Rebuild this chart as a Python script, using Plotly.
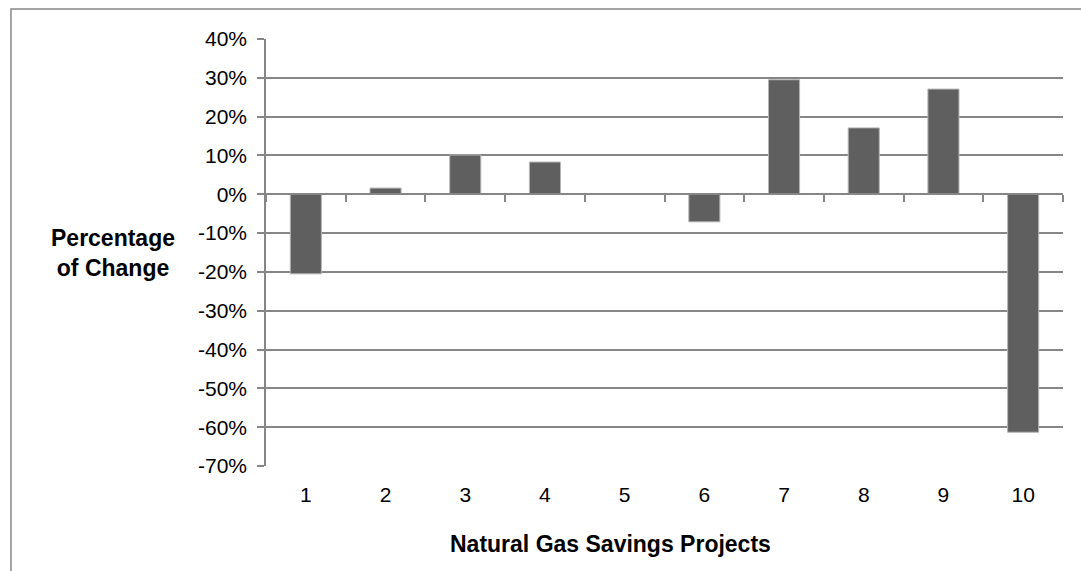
import plotly.graph_objects as go

projects = ["1", "2", "3", "4", "5", "6", "7", "8", "9", "10"]
pct_change = [-0.205, 0.016, 0.101, 0.083, 0.0, -0.071, 0.295, 0.171, 0.271, -0.613]
y_ticks = [-0.7, -0.6, -0.5, -0.4, -0.3, -0.2, -0.1, 0.0, 0.1, 0.2, 0.3, 0.4]
y_tick_text = ["-70%", "-60%", "-50%", "-40%", "-30%", "-20%", "-10%",
               "0%", "10%", "20%", "30%", "40%"]
y_min, y_max = -0.7, 0.4

GRID = "#868686"
FONT = "Liberation Sans, Arial, sans-serif"

x_pos = list(range(1, len(projects) + 1))
boundaries = [i + 0.5 for i in range(0, len(projects) + 1)]

fig = go.Figure()
fig.add_trace(go.Bar(
    x=x_pos, y=pct_change, width=0.39,
    marker=dict(color="#5f5f5f", line=dict(color="#b5b5b5", width=1)),
    hoverinfo="skip", showlegend=False,
))
# helper trace for the axis line at 0%
fig.add_trace(go.Scatter(
    x=x_pos, y=pct_change, xaxis="x2", mode="markers",
    marker=dict(opacity=0), hoverinfo="skip", showlegend=False,
))

zero_pos = (0 - y_min) / (y_max - y_min)

fig.update_layout(
    width=1081, height=571,
    margin=dict(l=266, r=18, t=39, b=105),
    paper_bgcolor="white", plot_bgcolor="white",
    font=dict(family=FONT, size=21, color="black"),
    xaxis=dict(
        range=[0.5, len(projects) + 0.5],
        tickmode="array", tickvals=x_pos, ticktext=projects,
        ticks="", showline=False, showgrid=False, zeroline=False,
        ticklabelstandoff=14,
        tickfont=dict(size=21),
    ),
    xaxis2=dict(
        overlaying="x", anchor="free", position=zero_pos,
        range=[0.5, len(projects) + 0.5],
        tickmode="array", tickvals=boundaries,
        ticks="outside", ticklen=7, tickwidth=1.5, tickcolor=GRID,
        showticklabels=False, showline=True, linecolor=GRID, linewidth=1.5,
        showgrid=False, zeroline=False,
    ),
    yaxis=dict(
        range=[y_min, y_max],
        tickmode="array", tickvals=y_ticks, ticktext=y_tick_text,
        showgrid=True, gridcolor=GRID, gridwidth=1.5,
        showline=True, linecolor=GRID, linewidth=1.5,
        ticks="outside", ticklen=7, tickwidth=1.5, tickcolor=GRID,
        zeroline=False, ticklabelstandoff=6,
        tickfont=dict(size=21),
    ),
    annotations=[
        dict(text="<b>Natural Gas Savings Projects</b>", xref="paper", yref="paper",
             x=0.432, y=-0.1815, showarrow=False, xanchor="center", yanchor="middle",
             font=dict(size=23, family=FONT)),
        dict(text="<b>Percentage<br>of Change</b>", xref="paper", yref="paper",
             x=-0.1915, y=0.498, showarrow=False, xanchor="center", yanchor="middle",
             align="center", font=dict(size=23, family=FONT)),
    ],
    shapes=[
        dict(type="path", xref="paper", yref="paper",
             path="M -0.32,-0.3 L -0.32,1.0703 L 1.05,1.0703",
             line=dict(color="#878787", width=1.5)),
    ],
)

html = fig.to_html(full_html=True, config={"displayModeBar": False})
html = html.replace("<body>", '<body style="margin:0;padding:0">', 1)
html = html.replace("<head>", '<head><style>html,body{margin:0;padding:0;}</style>', 1)
with open("out.html", "w", encoding="utf-8") as f:
    f.write(html)
